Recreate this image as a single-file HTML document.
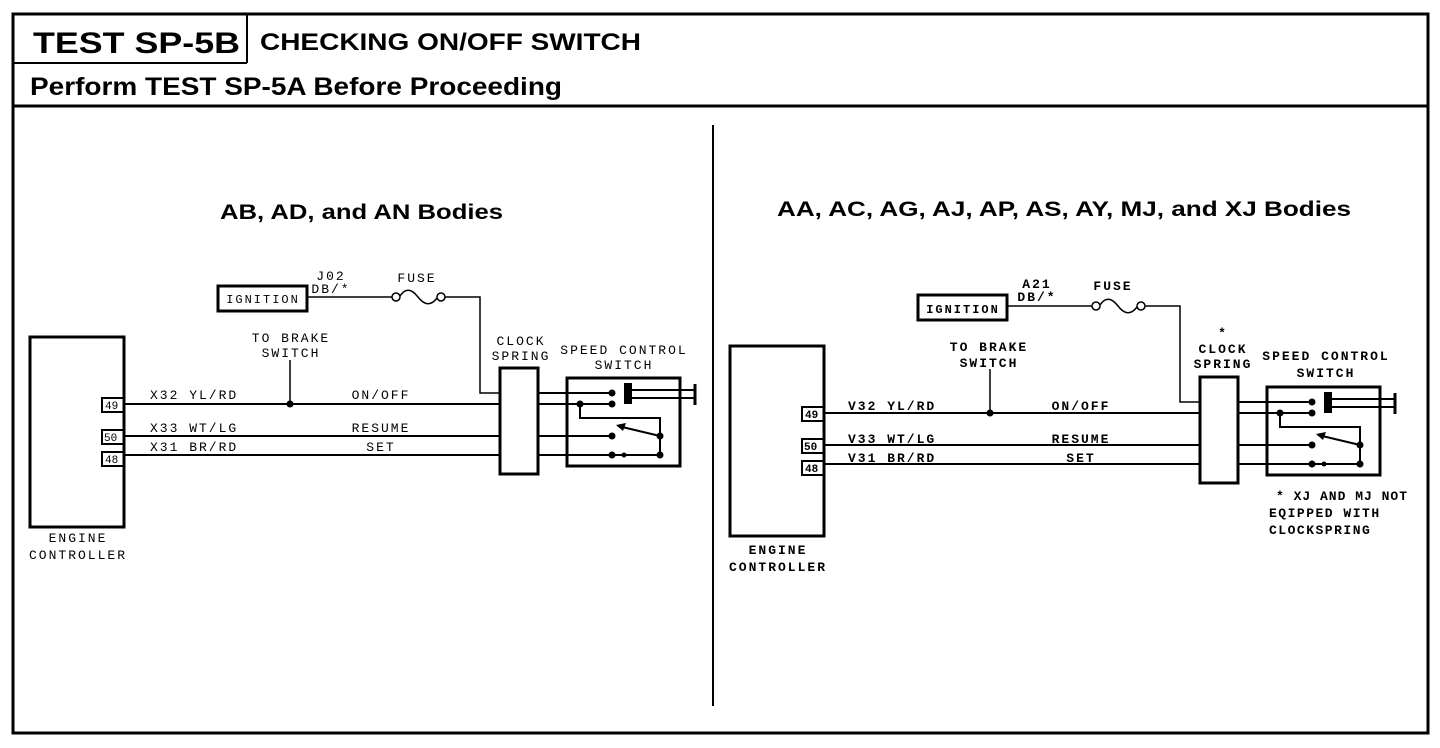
<!DOCTYPE html>
<html><head><style>
html,body{margin:0;padding:0;background:#fff;}
svg{display:block;}
.h{font-family:"Liberation Sans",Arial,sans-serif;font-weight:bold;fill:#000;}
.m{font-family:"Liberation Mono",monospace;font-size:13px;fill:#000;letter-spacing:2px;}
.mb{font-family:"Liberation Mono",monospace;font-size:13px;fill:#000;font-weight:bold;letter-spacing:2px;}
</style></head><body>
<svg width="1440" height="748" viewBox="0 0 1440 748" xmlns="http://www.w3.org/2000/svg">
<g fill="none" stroke="#000">
<rect x="13" y="14" width="1415" height="719" stroke-width="3"/>
<line x1="247" y1="14" x2="247" y2="63" stroke-width="2"/>
<line x1="13" y1="63" x2="247" y2="63" stroke-width="2"/>
<line x1="13" y1="106" x2="1428" y2="106" stroke-width="3"/>
<line x1="713" y1="125" x2="713" y2="706" stroke-width="2"/>
</g>
<text class="h" x="33" y="53" font-size="30" textLength="207" lengthAdjust="spacingAndGlyphs">TEST SP-5B</text>
<text class="h" x="260" y="50" font-size="24" textLength="381" lengthAdjust="spacingAndGlyphs">CHECKING ON/OFF SWITCH</text>
<text class="h" x="30" y="95" font-size="25" textLength="532" lengthAdjust="spacingAndGlyphs">Perform TEST SP-5A Before Proceeding</text>
<text class="h" x="220" y="219" font-size="21" textLength="283" lengthAdjust="spacingAndGlyphs">AB, AD, and AN Bodies</text>
<text class="h" x="777" y="216" font-size="21" textLength="574" lengthAdjust="spacingAndGlyphs">AA, AC, AG, AJ, AP, AS, AY, MJ, and XJ Bodies</text>

<defs>
<g id="d">
<g fill="none" stroke="#000" stroke-width="2">
<rect x="30" y="337" width="94" height="190" stroke-width="3"/>
<rect x="102" y="398" width="22" height="14"/>
<rect x="102" y="430" width="22" height="14"/>
<rect x="102" y="452" width="22" height="14"/>
<line x1="124" y1="404" x2="500" y2="404"/>
<line x1="124" y1="436" x2="500" y2="436"/>
<line x1="124" y1="455" x2="500" y2="455"/>
<line x1="290" y1="360" x2="290" y2="404" stroke-width="1.5"/>
<rect x="218" y="286" width="89" height="25" stroke-width="3"/>
<line x1="307" y1="297" x2="392" y2="297" stroke-width="1.5"/>
<circle cx="396" cy="297" r="4" stroke-width="1.5"/>
<circle cx="441" cy="297" r="4" stroke-width="1.5"/>
<path d="M400 296 Q408 284 418 297 Q428 310 437 298" stroke-width="1.5"/>
<polyline points="445,297 480,297 480,393 500,393" stroke-width="1.5"/>
<rect x="500" y="368" width="38" height="106" stroke-width="3"/>
<line x1="538" y1="393" x2="612" y2="393"/>
<line x1="538" y1="404" x2="612" y2="404"/>
<line x1="538" y1="436" x2="612" y2="436"/>
<line x1="538" y1="455" x2="660" y2="455"/>
<rect x="567" y="378" width="113" height="88" stroke-width="3"/>
<polyline points="580,404 580,418 660,418 660,455"/>
<line x1="660" y1="436" x2="618" y2="426"/>
<line x1="632" y1="390" x2="695" y2="390"/>
<line x1="632" y1="398" x2="695" y2="398"/>
<line x1="695" y1="384" x2="695" y2="405" stroke-width="3"/>
</g>
<g fill="#000">
<circle cx="290" cy="404" r="3.5"/>
<circle cx="612" cy="393" r="3.5"/><circle cx="612" cy="404" r="3.5"/>
<circle cx="580" cy="404" r="3.5"/>
<circle cx="612" cy="436" r="3.5"/><circle cx="612" cy="455" r="3.5"/>
<circle cx="624" cy="455" r="2.5"/>
<circle cx="660" cy="436" r="3.5"/><circle cx="660" cy="455" r="3.5"/>
<rect x="624" y="383" width="8" height="21"/>
<path d="M616 425 L626 423 L623 431 Z"/>
</g>
</g>
</defs>

<use href="#d"/>
<use href="#d" transform="translate(700,9)"/>

<g class="m">
<text x="105" y="409" font-size="11" letter-spacing="0">49</text>
<text x="104" y="441" font-size="11" letter-spacing="0">50</text>
<text x="105" y="463" font-size="11" letter-spacing="0">48</text>
<text x="150" y="399">X32 YL/RD</text>
<text x="150" y="432">X33 WT/LG</text>
<text x="150" y="451">X31 BR/RD</text>
<text x="381" y="399" text-anchor="middle">ON/OFF</text>
<text x="381" y="432" text-anchor="middle">RESUME</text>
<text x="381" y="451" text-anchor="middle">SET</text>
<text x="291" y="342" text-anchor="middle">TO BRAKE</text>
<text x="291" y="357" text-anchor="middle">SWITCH</text>
<text x="263" y="303" text-anchor="middle" font-size="12">IGNITION</text>
<text x="331" y="280" text-anchor="middle">J02</text>
<text x="331" y="293" text-anchor="middle">DB/*</text>
<text x="417" y="282" text-anchor="middle">FUSE</text>
<text x="521" y="345" text-anchor="middle">CLOCK</text>
<text x="521" y="360" text-anchor="middle">SPRING</text>
<text x="624" y="354" text-anchor="middle">SPEED CONTROL</text>
<text x="624" y="369" text-anchor="middle">SWITCH</text>
<text x="78" y="542" text-anchor="middle">ENGINE</text>
<text x="78" y="559" text-anchor="middle">CONTROLLER</text>
</g>
<g class="mb">
<text x="805" y="418" font-size="11" letter-spacing="0">49</text>
<text x="804" y="450" font-size="11" letter-spacing="0">50</text>
<text x="805" y="472" font-size="11" letter-spacing="0">48</text>
<text x="848" y="410">V32 YL/RD</text>
<text x="848" y="443">V33 WT/LG</text>
<text x="848" y="462">V31 BR/RD</text>
<text x="1081" y="410" text-anchor="middle">ON/OFF</text>
<text x="1081" y="443" text-anchor="middle">RESUME</text>
<text x="1081" y="462" text-anchor="middle">SET</text>
<text x="989" y="351" text-anchor="middle">TO BRAKE</text>
<text x="989" y="367" text-anchor="middle">SWITCH</text>
<text x="963" y="313" text-anchor="middle" font-size="12">IGNITION</text>
<text x="1037" y="288" text-anchor="middle">A21</text>
<text x="1037" y="301" text-anchor="middle">DB/*</text>
<text x="1113" y="290" text-anchor="middle">FUSE</text>
<text x="1223" y="337" text-anchor="middle">*</text>
<text x="1223" y="353" text-anchor="middle">CLOCK</text>
<text x="1223" y="368" text-anchor="middle">SPRING</text>
<text x="1326" y="360" text-anchor="middle">SPEED CONTROL</text>
<text x="1326" y="377" text-anchor="middle">SWITCH</text>
<text x="1276" y="500" letter-spacing="1">* XJ AND MJ NOT</text>
<text x="1269" y="517" letter-spacing="1.5">EQIPPED WITH</text>
<text x="1269" y="534" letter-spacing="1.5">CLOCKSPRING</text>
<text x="778" y="554" text-anchor="middle">ENGINE</text>
<text x="778" y="571" text-anchor="middle">CONTROLLER</text>
</g>
</svg>
</body></html>
